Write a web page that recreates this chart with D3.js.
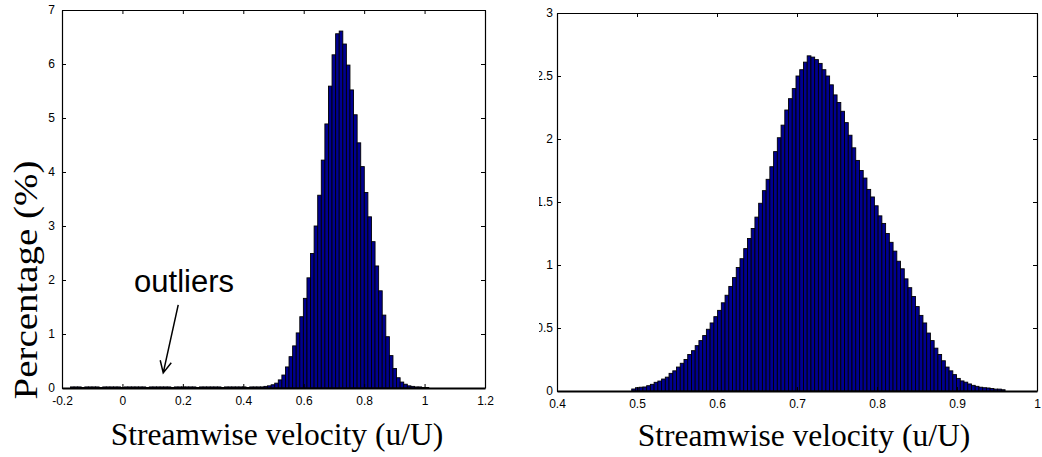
<!DOCTYPE html>
<html>
<head>
<meta charset="utf-8">
<script src="https://cdn.jsdelivr.net/npm/d3@7"></script>
<style>
  html, body { margin: 0; padding: 0; background: #fff; }
  svg { display: block; }
</style>
</head>
<body>
<svg id="chart" width="1042" height="457"></svg>
<script>
// ---------------- DATA ----------------
// Left panel: histogram (100 bins) of all samples, including outliers
const leftBinMin = -0.172;
const leftBinMax = 1.014;
const leftPercent = [
  0.02, 0.02, 0.02, 0.01, 0.02, 0.02, 0.02, 0.02, 0.01, 0.02,
  0.02, 0.02, 0.02, 0.02, 0.01, 0.02, 0.02, 0.02, 0.02, 0.02,
  0.02, 0.01, 0.02, 0.02, 0.02, 0.02, 0.02, 0.02, 0.01, 0.02,
  0.02, 0.02, 0.02, 0.02, 0.02, 0.01, 0.02, 0.02, 0.02, 0.02,
  0.02, 0.02, 0.01, 0.02, 0.02, 0.02, 0.02, 0.02, 0.02, 0.01,
  0.02, 0.02, 0.02, 0.02, 0.03, 0.04, 0.06, 0.09, 0.15, 0.24,
  0.39, 0.58, 0.78, 1.02, 1.32, 1.66, 2.04, 2.49, 3.00, 3.57,
  4.22, 4.89, 5.59, 6.17, 6.56, 6.61, 6.37, 5.98, 5.52, 5.06,
  4.54, 4.10, 3.62, 3.17, 2.71, 2.26, 1.80, 1.35, 0.95, 0.60,
  0.36, 0.19, 0.11, 0.07, 0.04, 0.03, 0.02, 0.02, 0.01, 0.01
];
const leftXTicks = [-0.2, 0, 0.2, 0.4, 0.6, 0.8, 1, 1.2];
const leftXTickLabels = ["-0.2", "0", "0.2", "0.4", "0.6", "0.8", "1", "1.2"];
const leftYTicks = [0, 1, 2, 3, 4, 5, 6, 7];
const leftYTickLabels = ["0", "1", "2", "3", "4", "5", "6", "7"];

// Right panel: histogram (100 bins) after removing outliers
const rightBinMin = 0.4934;
const rightBinMax = 0.9601;
const rightPercent = [
  0.016, 0.026, 0.030, 0.032, 0.042, 0.053, 0.069, 0.079, 0.095, 0.11,
  0.14, 0.16, 0.19, 0.22, 0.25, 0.29, 0.32, 0.36, 0.40, 0.44,
  0.49, 0.54, 0.59, 0.64, 0.70, 0.76, 0.83, 0.90, 0.98, 1.05,
  1.13, 1.21, 1.29, 1.38, 1.49, 1.59, 1.68, 1.78, 1.90, 2.01,
  2.11, 2.23, 2.32, 2.40, 2.50, 2.55, 2.61, 2.66, 2.65, 2.63,
  2.60, 2.55, 2.50, 2.43, 2.35, 2.29, 2.22, 2.13, 2.03, 1.93,
  1.83, 1.75, 1.69, 1.60, 1.54, 1.47, 1.39, 1.33, 1.25, 1.18,
  1.11, 1.03, 0.97, 0.89, 0.82, 0.75, 0.67, 0.60, 0.54, 0.46,
  0.40, 0.34, 0.29, 0.24, 0.19, 0.16, 0.13, 0.10, 0.08, 0.07,
  0.056, 0.045, 0.037, 0.030, 0.026, 0.024, 0.020, 0.015, 0.015, 0.010
];
const rightXTicks = [0.4, 0.5, 0.6, 0.7, 0.8, 0.9, 1];
const rightXTickLabels = ["0.4", "0.5", "0.6", "0.7", "0.8", "0.9", "1"];
const rightYTicks = [0, 0.5, 1, 1.5, 2, 2.5, 3];
const rightYTickLabels = ["0", "0.5", "1", "1.5", "2", "2.5", "3"];

const xAxisTitle = "Streamwise velocity (u/U)";
const yAxisTitle = "Percentage (%)";
const annotationText = "outliers";
const annotationTarget = { x: 0.135, y: 0.28 };

// ---------------- DRAWING ----------------
const svg = d3.select("#chart");
const tickFont = "'Liberation Sans', Arial, sans-serif";
const titleFont = "'Liberation Serif', 'Times New Roman', serif";
const barFill = "#000090";

function panel(cfg) {
  const g = svg.append("g");
  const x = d3.scaleLinear().domain(cfg.xDomain).range([cfg.left, cfg.right]);
  const y = d3.scaleLinear().domain(cfg.yDomain).range([cfg.bottom, cfg.top]);
  const n = cfg.values.length;
  const w = (cfg.binMax - cfg.binMin) / n;
  const bins = cfg.values.map((v, i) => ({ x0: cfg.binMin + i * w, x1: cfg.binMin + (i + 1) * w, v }));

  const content = cfg.clipX != null
    ? (function () {
        const id = "clip" + cfg.left;
        svg.append("clipPath").attr("id", id).append("rect")
          .attr("x", cfg.clipX).attr("y", 0).attr("width", 1042 - cfg.clipX).attr("height", 457);
        return g.append("g").attr("clip-path", `url(#${id})`);
      })()
    : g;

  // bars
  content.append("g").selectAll("rect").data(bins).join("rect")
    .attr("x", d => x(d.x0))
    .attr("y", d => y(d.v))
    .attr("width", d => x(d.x1) - x(d.x0))
    .attr("height", d => y(0) - y(d.v))
    .attr("fill", barFill)
    .attr("stroke", "#000")
    .attr("stroke-width", 0.9);

  // axes (box with inward ticks)
  const tl = 4;
  const bottomAxis = d3.axisBottom(x).tickValues(cfg.xTicks).tickSizeInner(-tl).tickSizeOuter(0)
    .tickPadding(tl + 4).tickFormat((d, i) => cfg.xTickLabels[i]);
  const topAxis = d3.axisTop(x).tickValues(cfg.xTicks).tickSizeInner(-tl).tickSizeOuter(0).tickFormat("");
  const leftAxis = d3.axisLeft(y).tickValues(cfg.yTicks).tickSizeInner(-tl).tickSizeOuter(0)
    .tickPadding(tl + cfg.yPad).tickFormat((d, i) => cfg.yTickLabels[i]);
  const rightAxis = d3.axisRight(y).tickValues(cfg.yTicks).tickSizeInner(-tl).tickSizeOuter(0).tickFormat("");

  const ax = [
    content.append("g").attr("transform", `translate(0,${cfg.bottom})`).call(bottomAxis),
    content.append("g").attr("transform", `translate(0,${cfg.top})`).call(topAxis),
    content.append("g").attr("transform", `translate(${cfg.left},0)`).call(leftAxis),
    content.append("g").attr("transform", `translate(${cfg.right},0)`).call(rightAxis)
  ];
  ax.forEach(a => {
    a.select(".domain").attr("stroke", "#000").attr("stroke-width", 1.2);
    a.selectAll(".tick line").attr("stroke", "#000").attr("stroke-width", 1);
    a.selectAll("text").attr("font-family", tickFont).attr("font-size", cfg.tickSize + "px").attr("fill", "#000");
  });
  ax[0].select(".domain").attr("stroke-width", 2);

  // x title
  g.append("text")
    .attr("x", cfg.xTitleX).attr("y", cfg.xTitleY)
    .attr("text-anchor", "middle")
    .attr("font-family", titleFont).attr("font-size", cfg.xTitleSize + "px")
    .text(xAxisTitle);
  return { x, y, g };
}

const L = panel({
  xDomain: [-0.2, 1.2], yDomain: [0, 7],
  left: 62, right: 485, top: 10, bottom: 388,
  binMin: leftBinMin, binMax: leftBinMax, values: leftPercent,
  xTicks: leftXTicks, xTickLabels: leftXTickLabels,
  yTicks: leftYTicks, yTickLabels: leftYTickLabels,
  yPad: 3, tickSize: 12,
  xTitleX: 277, xTitleY: 445, xTitleSize: 31.5
});

const R = panel({
  xDomain: [0.4, 1.0], yDomain: [0, 3],
  left: 557, right: 1037, top: 13, bottom: 391,
  binMin: rightBinMin, binMax: rightBinMax, values: rightPercent,
  xTicks: rightXTicks, xTickLabels: rightXTickLabels,
  yTicks: rightYTicks, yTickLabels: rightYTickLabels,
  yPad: 0, tickSize: 12, clipX: 539,
  xTitleX: 804, xTitleY: 446, xTitleSize: 31.5
});

// y title (left panel only) - stretched along its length like the reference
svg.append("text")
  .attr("transform", "translate(37,280) rotate(-90) scale(1.18,1)")
  .attr("text-anchor", "middle")
  .attr("font-family", titleFont).attr("font-size", "33px")
  .text(yAxisTitle);

// annotation
svg.append("text")
  .attr("x", 184).attr("y", 292)
  .attr("text-anchor", "middle")
  .attr("font-family", tickFont).attr("font-size", "31px")
  .text(annotationText);

const tipX = L.x(annotationTarget.x), tipY = L.y(annotationTarget.y);
const startX = tipX + 15, startY = tipY - 68;
const ang = Math.atan2(tipY - startY, tipX - startX);
const hl = 13, ha = 0.45;
svg.append("path")
  .attr("d", `M${startX},${startY}L${tipX},${tipY}`
    + `M${tipX - hl * Math.cos(ang - ha)},${tipY - hl * Math.sin(ang - ha)}L${tipX},${tipY}`
    + `L${tipX - hl * Math.cos(ang + ha)},${tipY - hl * Math.sin(ang + ha)}`)
  .attr("fill", "none").attr("stroke", "#000").attr("stroke-width", 1.5);
</script>
</body>
</html>
